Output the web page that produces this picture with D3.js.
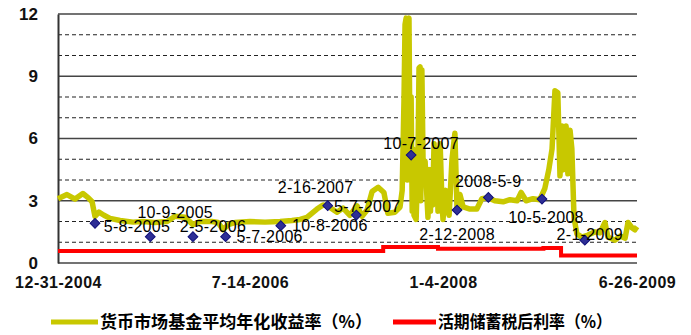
<!DOCTYPE html>
<html>
<head>
<meta charset="utf-8">
<script src="https://cdn.jsdelivr.net/npm/d3@7"></script>
<style>
  body { margin: 0; background: #fff; }
  svg { display: block; }
</style>
</head>
<body>
<svg id="chart" width="691" height="335"></svg>
<script>
// Money market fund average annualised yield (%)
const fundDates = [
  "2004-12-31","2005-01-31","2005-02-28","2005-03-27","2005-04-14","2005-04-28","2005-05-05","2005-05-08",
  "2005-05-19","2005-06-02","2005-06-19","2005-07-17","2005-08-22","2005-09-19","2005-10-22","2005-11-25",
  "2005-12-17","2006-01-14","2006-02-05","2006-02-25","2006-03-30","2006-04-16","2006-04-30","2006-05-14",
  "2006-06-02","2006-07-14","2006-08-25","2006-10-06","2006-11-08","2006-12-01","2006-12-20","2007-01-17",
  "2007-02-03","2007-02-16","2007-03-14","2007-03-31","2007-04-19","2007-05-09","2007-05-23","2007-06-06",
  "2007-06-20","2007-07-07","2007-07-23","2007-08-03","2007-08-23","2007-09-06","2007-09-12","2007-09-17",
  "2007-09-20","2007-09-23","2007-09-26","2007-09-28","2007-10-01","2007-10-04","2007-10-07","2007-10-10",
  "2007-10-12","2007-10-15","2007-10-21","2007-10-26","2007-10-29","2007-11-01","2007-11-03","2007-11-06",
  "2007-11-10","2007-11-15","2007-11-23","2007-11-27","2007-11-30","2007-12-02","2007-12-06","2007-12-10",
  "2007-12-14","2007-12-18","2007-12-21","2007-12-27","2008-01-01","2008-01-04","2008-01-12","2008-01-21",
  "2008-01-29","2008-02-06","2008-02-12","2008-02-20","2008-02-29","2008-03-19","2008-04-07","2008-04-21",
  "2008-05-08","2008-05-27","2008-06-19","2008-07-08","2008-07-28","2008-08-08","2008-08-22","2008-09-10",
  "2008-09-29","2008-10-13","2008-10-24","2008-11-02","2008-11-10","2008-11-18","2008-11-24","2008-11-30",
  "2008-12-05","2008-12-11","2008-12-16","2008-12-22","2008-12-27","2009-01-02","2009-01-10","2009-01-24",
  "2009-02-10","2009-03-01","2009-03-15","2009-03-29","2009-04-06","2009-04-26","2009-05-10","2009-05-24",
  "2009-06-01","2009-06-12","2009-06-20","2009-06-26"
];
const fundValues = [
  3.10, 3.30, 3.08, 3.35, 3.15, 2.95, 2.45, 2.25,
  2.45, 2.30, 2.15, 2.05, 1.97, 2.00, 1.95, 2.00,
  2.25, 2.20, 1.85, 2.00, 2.00, 1.95, 1.60, 1.85,
  1.95, 2.00, 1.97, 2.00, 2.05, 2.10, 2.20, 2.60,
  2.80, 2.75, 2.45, 2.65, 2.30, 2.75, 2.25, 2.55,
  3.45, 3.65, 3.40, 2.40, 2.45, 2.70, 3.50, 7.80,
  11.50, 11.80, 4.00, 11.70, 11.80, 5.00, 8.00, 2.50,
  5.50, 2.30, 2.10, 5.00, 9.40, 9.45, 3.00, 9.30,
  4.00, 4.90, 2.20, 4.50, 2.50, 4.50, 2.80, 5.75,
  3.00, 5.50, 2.50, 5.75, 3.00, 2.10, 3.50, 2.30,
  5.00, 6.25, 2.60, 3.30, 2.70, 2.60, 2.60, 3.10,
  3.15, 3.00, 2.95, 3.05, 3.00, 3.40, 3.00, 3.10,
  3.05, 3.60, 4.50, 5.50, 8.30, 8.20, 4.20, 6.60,
  4.50, 6.60, 4.30, 6.40, 5.50, 2.20, 1.40, 1.25,
  1.35, 1.50, 1.45, 1.95, 1.25, 1.10, 1.30, 1.20,
  1.95, 1.70, 1.60, 1.75
];

// After-tax demand deposit rate (%), changes on the listed dates
const depositDates  = ["2004-12-31","2007-07-21","2007-12-21","2008-10-09","2008-11-27","2009-06-26"];
const depositValues = [0.576, 0.77, 0.684, 0.72, 0.36, 0.36];

// Marked observations with their date labels
const markerDates  = ["2005-05-08","2005-10-09","2006-02-05","2006-05-07","2006-10-08","2007-02-16",
                      "2007-05-07","2007-10-07","2008-02-12","2008-05-09","2008-10-05","2009-02-01"];
const markerValues = [1.91, 1.27, 1.27, 1.27, 1.80, 2.76, 2.31, 5.20, 2.55, 3.16, 3.08, 1.10];
const markerLabels = ["5-8-2005","10-9-2005","2-5-2006","5-7-2006","10-8-2006","2-16-2007",
                      "5-7-2007","10-7-2007","2-12-2008","2008-5-9","10-5-2008","2-1-2009"];

// Axis ticks
const xTickDates  = ["2004-12-31","2006-07-14","2008-01-04","2009-06-26"];
const xTickLabels = ["12-31-2004","7-14-2006","1-4-2008","6-26-2009"];
const yMajorTicks = [0, 3, 6, 9, 12];
const yMinorTicks = [1, 2, 4, 5, 7, 8, 10, 11];

const seriesNames  = ["货币市场基金平均年化收益率（%）", "活期储蓄税后利率（%）"];
const seriesColors = ["#c8c800", "#ff0000"];

// ---------------------------------------------------------------- layout
const parse = d3.timeParse("%Y-%m-%d");
const plot = { left: 58, right: 637, top: 14, bottom: 263 };
const latinFont = "Arial, 'Liberation Sans', sans-serif";
const cjkFont = "'Noto Sans CJK SC', 'Noto Sans', sans-serif";

// label placement around each marker: centre offset in px
const labelOffsets = [[42, 3], [25, -24], [20, -10], [44, 0], [49, 0], [-12, -18],
                      [11, -9], [10, -12], [0, 24], [0, -16], [4, 18], [5, -6]];

const svg = d3.select("#chart");

// category-style date axis: piecewise time scale through the labelled dates
const x = d3.scaleTime()
  .domain([parse("2004-12-31"), parse("2005-05-08"), parse("2006-07-14"), parse("2008-01-04"), parse("2009-06-26")])
  .range([plot.left, 95, 250, 443, plot.right]);

const y = d3.scaleLinear().domain([0, 12]).range([plot.bottom, plot.top]);

// grid: dashed minor lines, solid major lines
svg.append("g").selectAll("line").data(yMinorTicks).join("line")
  .attr("x1", plot.left).attr("x2", plot.right)
  .attr("y1", d => y(d)).attr("y2", d => y(d))
  .attr("stroke", "#222").attr("stroke-width", 1.2)
  .attr("stroke-dasharray", "4,3");

svg.append("g").selectAll("line").data(yMajorTicks).join("line")
  .attr("x1", plot.left).attr("x2", plot.right)
  .attr("y1", d => y(d)).attr("y2", d => y(d))
  .attr("stroke", "#444").attr("stroke-width", 1.6);

// y axis
const yAxis = d3.axisLeft(y).tickValues(yMajorTicks).tickSize(0).tickPadding(20).tickFormat(d3.format("d"));
const yG = svg.append("g").attr("transform", `translate(${plot.left},0)`).call(yAxis);
yG.select(".domain").attr("stroke", "#333").attr("stroke-width", 2);
yG.selectAll("text")
  .attr("font-family", latinFont).attr("font-size", 17).attr("font-weight", "bold").attr("fill", "#111");

// x axis labels
const xAxis = d3.axisBottom(x).tickValues(xTickDates.map(parse)).tickSize(0).tickPadding(14)
  .tickFormat((d, i) => xTickLabels[i]);
const xG = svg.append("g").attr("transform", `translate(0,${plot.bottom})`).call(xAxis);
xG.select(".domain").remove();
xG.selectAll("text")
  .attr("font-family", latinFont).attr("font-size", 16).attr("font-weight", "bold")
  .attr("letter-spacing", 0.5).attr("fill", "#111");

// deposit rate line
const depositData = depositDates.map((d, i) => ({ date: parse(d), value: depositValues[i] }));
svg.append("path")
  .datum(depositData)
  .attr("fill", "none").attr("stroke", seriesColors[1]).attr("stroke-width", 4)
  .attr("d", d3.line().x(d => x(d.date)).y(d => y(d.value)).curve(d3.curveStepAfter));

// fund yield line
const fundData = fundDates.map((d, i) => ({ date: parse(d), value: fundValues[i] }));
svg.append("path")
  .datum(fundData)
  .attr("fill", "none").attr("stroke", seriesColors[0]).attr("stroke-width", 5.5)
  .attr("stroke-linejoin", "round")
  .attr("d", d3.line().x(d => x(d.date)).y(d => y(d.value)));

// markers
const markerData = markerDates.map((d, i) => ({
  date: parse(d), value: markerValues[i], label: markerLabels[i], off: labelOffsets[i]
}));
const diamond = d3.symbol().type(d3.symbolSquare).size(48);
const mG = svg.append("g");
mG.selectAll("path").data(markerData).join("path")
  .attr("d", diamond)
  .attr("transform", d => `translate(${x(d.date)},${y(d.value)}) rotate(45)`)
  .attr("fill", "#2e2e96").attr("stroke", "#10107a").attr("stroke-width", 1);

mG.selectAll("text").data(markerData).join("text")
  .attr("x", d => x(d.date) + d.off[0])
  .attr("y", d => y(d.value) + d.off[1])
  .attr("dy", "0.36em")
  .attr("text-anchor", "middle")
  .attr("font-family", latinFont).attr("font-size", 16).attr("letter-spacing", 0.3)
  .attr("fill", "#000")
  .text(d => d.label);

// legend
const legendY = 322;
const legendItems = [
  { name: seriesNames[0], color: seriesColors[0], x0: 51, x1: 98, len: 272 },
  { name: seriesNames[1], color: seriesColors[1], x0: 393, x1: 436, len: 174 }
];
const lg = svg.append("g");
legendItems.forEach(item => {
  lg.append("line")
    .attr("x1", item.x0).attr("x2", item.x1).attr("y1", legendY).attr("y2", legendY)
    .attr("stroke", item.color).attr("stroke-width", 5);
  lg.append("text")
    .attr("x", item.x1 + 2).attr("y", legendY).attr("dy", "0.36em")
    .attr("font-family", cjkFont).attr("font-size", 17).attr("font-weight", "bold")
    .attr("textLength", item.len).attr("lengthAdjust", "spacingAndGlyphs")
    .attr("fill", "#000")
    .text(item.name);
});
</script>
</body>
</html>
